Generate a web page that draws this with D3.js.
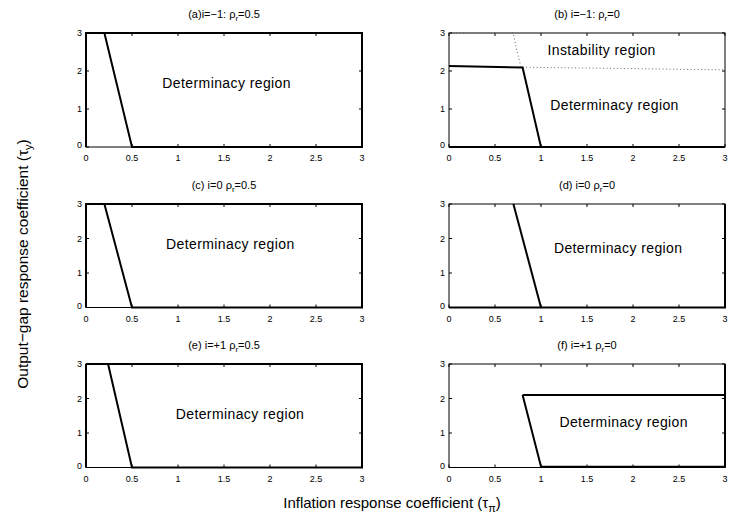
<!DOCTYPE html>
<html>
<head>
<meta charset="utf-8">
<script src="https://cdn.jsdelivr.net/npm/d3@7"></script>
<style>
  body { margin: 0; background: #fff; }
  svg { font-family: "Liberation Sans", Arial, Helvetica, sans-serif; }
</style>
</head>
<body>
<div id="plot"></div>
<script>
(function() {
  // tick values shared by all six panels
  var xTicks = [0, 0.5, 1, 1.5, 2, 2.5, 3];
  var yTicks = [0, 1, 2, 3];
  var xTickLabels = ["0", "0.5", "1", "1.5", "2", "2.5", "3"];
  var yTickLabels = ["0", "1", "2", "3"];

  // panel titles: [prefix, rho value]
  var titles = [
    ["(a)i=\u22121: \u03c1", "=0.5"],
    ["(b) i=\u22121: \u03c1", "=0"],
    ["(c) i=0 \u03c1", "=0.5"],
    ["(d) i=0 \u03c1", "=0"],
    ["(e) i=+1 \u03c1", "=0.5"],
    ["(f) i=+1 \u03c1", "=0"]
  ];

  // solid (thick) boundaries (tau_pi, tau_y)
  var solidA = [[[0, 0], [0, 3], [0.2, 3], [0.5, 0], [3, 0], [3, 3], [0.2, 3]]];
  var solidB = [[[0, 2.13], [0.8, 2.09], [1.0, 0]], [[0, 0], [3, 0]]];
  var solidC = [[[0, 0], [0, 3], [0.2, 3], [0.5, 0], [3, 0], [3, 3], [0.2, 3]]];
  var solidD = [[[0.7, 3], [1.0, 0]], [[0, 0], [3, 0], [3, 3]]];
  var solidE = [[[0, 3], [0.24, 3], [0.5, 0], [3, 0], [3, 3], [0.24, 3]], [[0, 0], [0, 3]]];
  var solidF = [[[0.8, 2.1], [3, 2.1]], [[0.8, 2.1], [1.0, 0.03], [3, 0.02]], [[3, 0], [3, 3]]];

  // dotted instability boundary in panel (b)
  var dottedB = [[[0, 3], [0.7, 3], [0.73, 2.6], [0.78, 2.13]], [[0.8, 2.1], [3, 2.03]]];

  // region labels: [text, x, y]
  var labelsA = [["Determinacy region", 0.83, 1.54]];
  var labelsB = [["Instability region", 1.07, 2.41], ["Determinacy region", 1.10, 0.98]];
  var labelsC = [["Determinacy region", 0.87, 1.70]];
  var labelsD = [["Determinacy region", 1.14, 1.58]];
  var labelsE = [["Determinacy region", 0.975, 1.42]];
  var labelsF = [["Determinacy region", 1.20, 1.16]];

  var solids = [solidA, solidB, solidC, solidD, solidE, solidF];
  var dotted = [[], dottedB, [], [], [], []];
  var labels = [labelsA, labelsB, labelsC, labelsD, labelsE, labelsF];

  var width = 730, height = 521;
  var colX = [86, 449];
  var pw = 276;
  var rows = [[33, 147], [204, 307.5], [364, 467.5]];

  var svg = d3.select("#plot").append("svg")
    .attr("width", width)
    .attr("height", height);

  var line = d3.line();

  titles.forEach(function(t, i) {
    var col = i % 2, row = Math.floor(i / 2);
    var x0 = colX[col], top = rows[row][0], bottom = rows[row][1];

    var x = d3.scaleLinear().domain([0, 3]).range([x0, x0 + pw]);
    var y = d3.scaleLinear().domain([0, 3]).range([bottom, top]);

    var g = svg.append("g");

    // frame
    g.append("rect")
      .attr("x", x(0)).attr("y", y(3))
      .attr("width", x(3) - x(0)).attr("height", y(0) - y(3))
      .attr("fill", "none").attr("stroke", "#000").attr("stroke-width", 1);

    // inward ticks on all four sides
    xTicks.forEach(function(v) {
      g.append("line").attr("x1", x(v)).attr("x2", x(v))
        .attr("y1", y(0)).attr("y2", y(0) - 3).attr("stroke", "#000");
      g.append("line").attr("x1", x(v)).attr("x2", x(v))
        .attr("y1", y(3)).attr("y2", y(3) + 3).attr("stroke", "#000");
    });
    yTicks.forEach(function(v) {
      g.append("line").attr("x1", x(0)).attr("x2", x(0) + 3)
        .attr("y1", y(v)).attr("y2", y(v)).attr("stroke", "#000");
      g.append("line").attr("x1", x(3)).attr("x2", x(3) - 3)
        .attr("y1", y(v)).attr("y2", y(v)).attr("stroke", "#000");
    });

    g.selectAll(".xl").data(xTicks).enter().append("text")
      .attr("x", function(d) { return x(d); })
      .attr("y", y(0) + 14)
      .attr("text-anchor", "middle")
      .attr("font-size", 9)
      .text(function(d, k) { return xTickLabels[k]; });

    g.selectAll(".yl").data(yTicks).enter().append("text")
      .attr("x", x(0) - 4)
      .attr("y", function(d) { return y(d) + (d === 0 ? 1 : 3); })
      .attr("text-anchor", "end")
      .attr("font-size", 9)
      .text(function(d, k) { return yTickLabels[k]; });

    // dotted lines
    dotted[i].forEach(function(pts) {
      g.append("path")
        .attr("d", line(pts.map(function(p) { return [x(p[0]), y(p[1])]; })))
        .attr("fill", "none").attr("stroke", "#666")
        .attr("stroke-width", 1).attr("stroke-dasharray", "1,2.5");
    });

    // solid boundaries
    solids[i].forEach(function(pts) {
      g.append("path")
        .attr("d", line(pts.map(function(p) { return [x(p[0]), y(p[1])]; })))
        .attr("fill", "none").attr("stroke", "#000")
        .attr("stroke-width", 2).attr("stroke-linejoin", "miter");
    });

    labels[i].forEach(function(l) {
      g.append("text")
        .attr("x", x(l[1])).attr("y", y(l[2]))
        .attr("font-size", 14)
        .attr("letter-spacing", 0.4)
        .text(l[0]);
    });

    // title with subscript r
    var tt = g.append("text")
      .attr("x", x(1.5)).attr("y", top - 15)
      .attr("text-anchor", "middle")
      .attr("font-size", 11);
    tt.append("tspan").text(t[0]);
    tt.append("tspan").attr("dy", 3).attr("font-size", 8).text("r");
    tt.append("tspan").attr("dy", -3).text(t[1]);
  });

  // axis labels
  var yl = svg.append("text")
    .attr("transform", "translate(28,264) rotate(-90)")
    .attr("text-anchor", "middle")
    .attr("font-size", 15.5);
  yl.append("tspan").text("Output\u2212gap response coefficient (\u03c4");
  yl.append("tspan").attr("dy", 4).attr("font-size", 11).text("y");
  yl.append("tspan").attr("dy", -4).text(")");

  var xl = svg.append("text")
    .attr("x", 392).attr("y", 508)
    .attr("text-anchor", "middle")
    .attr("font-size", 15);
  xl.append("tspan").text("Inflation response coefficient (\u03c4");
  xl.append("tspan").attr("dy", 4).attr("font-size", 11).text("\u03c0");
  xl.append("tspan").attr("dy", -4).text(")");
})();
</script>
</body>
</html>
